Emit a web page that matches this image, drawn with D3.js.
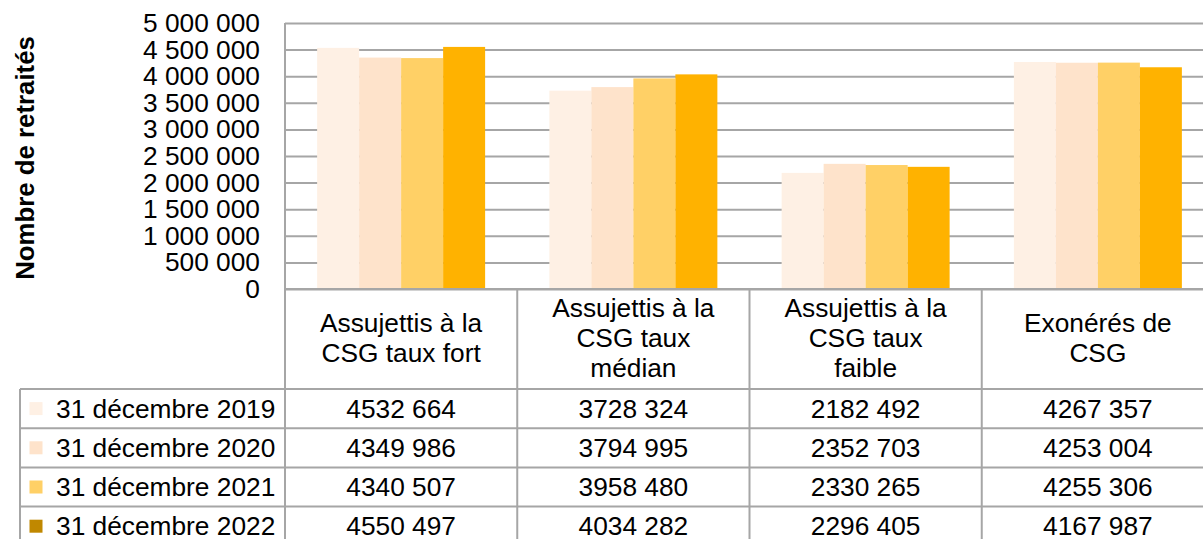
<!DOCTYPE html>
<html>
<head>
<meta charset="utf-8">
<script src="https://cdn.jsdelivr.net/npm/d3@7"></script>
<style>
  body { margin: 0; background: white; }
  svg { display: block; font-family: "Liberation Sans", Arial, sans-serif; }
</style>
</head>
<body>
<main></main>
<script>
/*** Data ***/
let categories = [
    ["Assujettis à la", "CSG taux fort"],
    ["Assujettis à la", "CSG taux", "médian"],
    ["Assujettis à la", "CSG taux", "faible"],
    ["Exonérés de", "CSG"]
]
let seriesNames = ["31 décembre 2019", "31 décembre 2020", "31 décembre 2021", "31 décembre 2022"]
let values2019 = [4532664, 3728324, 2182492, 4267357]
let values2020 = [4349986, 3794995, 2352703, 4253004]
let values2021 = [4340507, 3958480, 2330265, 4255306]
let values2022 = [4550497, 4034282, 2296405, 4167987]
let yTicks = [0, 500000, 1000000, 1500000, 2000000, 2500000, 3000000, 3500000, 4000000, 4500000, 5000000]

let seriesValues = [values2019, values2020, values2021, values2022]
let barColors = ["#FEF0E4", "#FEE3CB", "#FFD066", "#FFB200"]
let keyColors = ["#FEF0E4", "#FEE3CB", "#FFD066", "#C08800"]

const svgWidth = 1203
const svgHeight = 539

const plotLeft = 285
const plotRight = 1214
const plotTop = 23
const plotBottom = 289
const headerBottom = 389
const rowHeight = 39.2
const legendLeft = 20
const fontSize = 26.3
const gridColor = "#A6A6A6"

let svg = d3.select("main")
    .append("svg")
    .attr("width", svgWidth)
    .attr("height", svgHeight)

/* Scales */
let catIds = categories.map((d, i) => i)

let xScale = d3.scaleBand()
    .domain(catIds)
    .range([plotLeft, plotRight])

let x1 = d3.scaleBand()
    .domain(seriesNames)
    .range([0, xScale.bandwidth()])
    .paddingOuter(0.765)

let yScale = d3.scaleLinear()
    .domain([0, 5000000])
    .range([plotBottom, plotTop])

let locale = d3.formatLocale({decimal: ",", thousands: " ", grouping: [3], currency: ["", " €"]})
let tickFormat = locale.format(",d")

/* Gridlines */
let yAxis = svg.append("g")
    .attr("transform", `translate(${plotLeft}, 0)`)
    .call(d3.axisLeft(yScale)
        .tickValues(yTicks)
        .tickSize(-(plotRight - plotLeft))
        .tickPadding(25)
        .tickFormat(tickFormat))

yAxis.select(".domain").remove()
yAxis.selectAll("line")
    .attr("stroke", gridColor)
    .attr("stroke-width", 2)
yAxis.selectAll("text")
    .attr("fill", "#000")
    .style("font-size", fontSize + "px")
    .style("font-family", "Liberation Sans, Arial, sans-serif")

/* Bars */
let groups = svg.append("g")
    .selectAll("g")
    .data(seriesValues)
    .join("g")
    .attr("fill", (d, i) => barColors[i])

groups.selectAll("rect")
    .data((d, i) => d.map((v, j) => ({v: v, cat: j, s: seriesNames[i]})))
    .join("rect")
    .attr("x", (d) => xScale(d.cat) + x1(d.s))
    .attr("y", (d) => yScale(d.v))
    .attr("width", x1.bandwidth())
    .attr("height", (d) => yScale(0) - yScale(d.v))

/* Y axis title */
svg.append("text")
    .attr("transform", `translate(34, 158) rotate(-90)`)
    .attr("text-anchor", "middle")
    .style("font-size", "25.8px")
    .style("font-weight", "bold")
    .text("Nombre de retraités")

/* Data table */
let table = svg.append("g")

// category header cells
let headerMid = (plotBottom + headerBottom) / 2 - 1
categories.forEach((lines, i) => {
    let t = table.append("text")
        .attr("text-anchor", "middle")
        .style("font-size", fontSize + "px")
    let first = -(lines.length - 1) / 2 * 30
    lines.forEach((line, k) => {
        t.append("tspan")
            .attr("x", xScale(i) + xScale.bandwidth() / 2)
            .attr("y", headerMid + first + k * 30)
            .attr("dy", "0.35em")
            .text(line)
    })
})

let formatValue = (v) => Math.floor(v / 1000) + " " + String(v % 1000).padStart(3, "0")

seriesNames.forEach((name, i) => {
    let mid = headerBottom + rowHeight * i + rowHeight / 2
    table.append("rect")
        .attr("x", 29.5)
        .attr("y", mid - 6.5)
        .attr("width", 13)
        .attr("height", 13)
        .attr("fill", keyColors[i])
    table.append("text")
        .attr("x", 56)
        .attr("y", mid)
        .attr("dy", "0.35em")
        .style("font-size", fontSize + "px")
        .text(name)
    seriesValues[i].forEach((v, j) => {
        table.append("text")
            .attr("x", xScale(j) + xScale.bandwidth() / 2)
            .attr("y", mid)
            .attr("dy", "0.35em")
            .attr("text-anchor", "middle")
            .style("font-size", fontSize + "px")
            .text(formatValue(v))
    })
})

// table lines
let lines = table.append("g")
    .attr("stroke", gridColor)
    .attr("stroke-width", 2)

lines.append("line")
    .attr("x1", plotLeft).attr("x2", plotRight)
    .attr("y1", plotBottom).attr("y2", plotBottom)

d3.range(seriesNames.length + 1).forEach((i) => {
    let y = headerBottom + rowHeight * i
    lines.append("line")
        .attr("x1", legendLeft).attr("x2", plotRight)
        .attr("y1", y).attr("y2", y)
})

lines.append("line")
    .attr("x1", legendLeft).attr("x2", legendLeft)
    .attr("y1", headerBottom).attr("y2", svgHeight + 10)

catIds.forEach((i) => {
    lines.append("line")
        .attr("x1", xScale(i)).attr("x2", xScale(i))
        .attr("y1", i == 0 ? plotTop : plotBottom).attr("y2", svgHeight + 10)
})
</script>
</body>
</html>
